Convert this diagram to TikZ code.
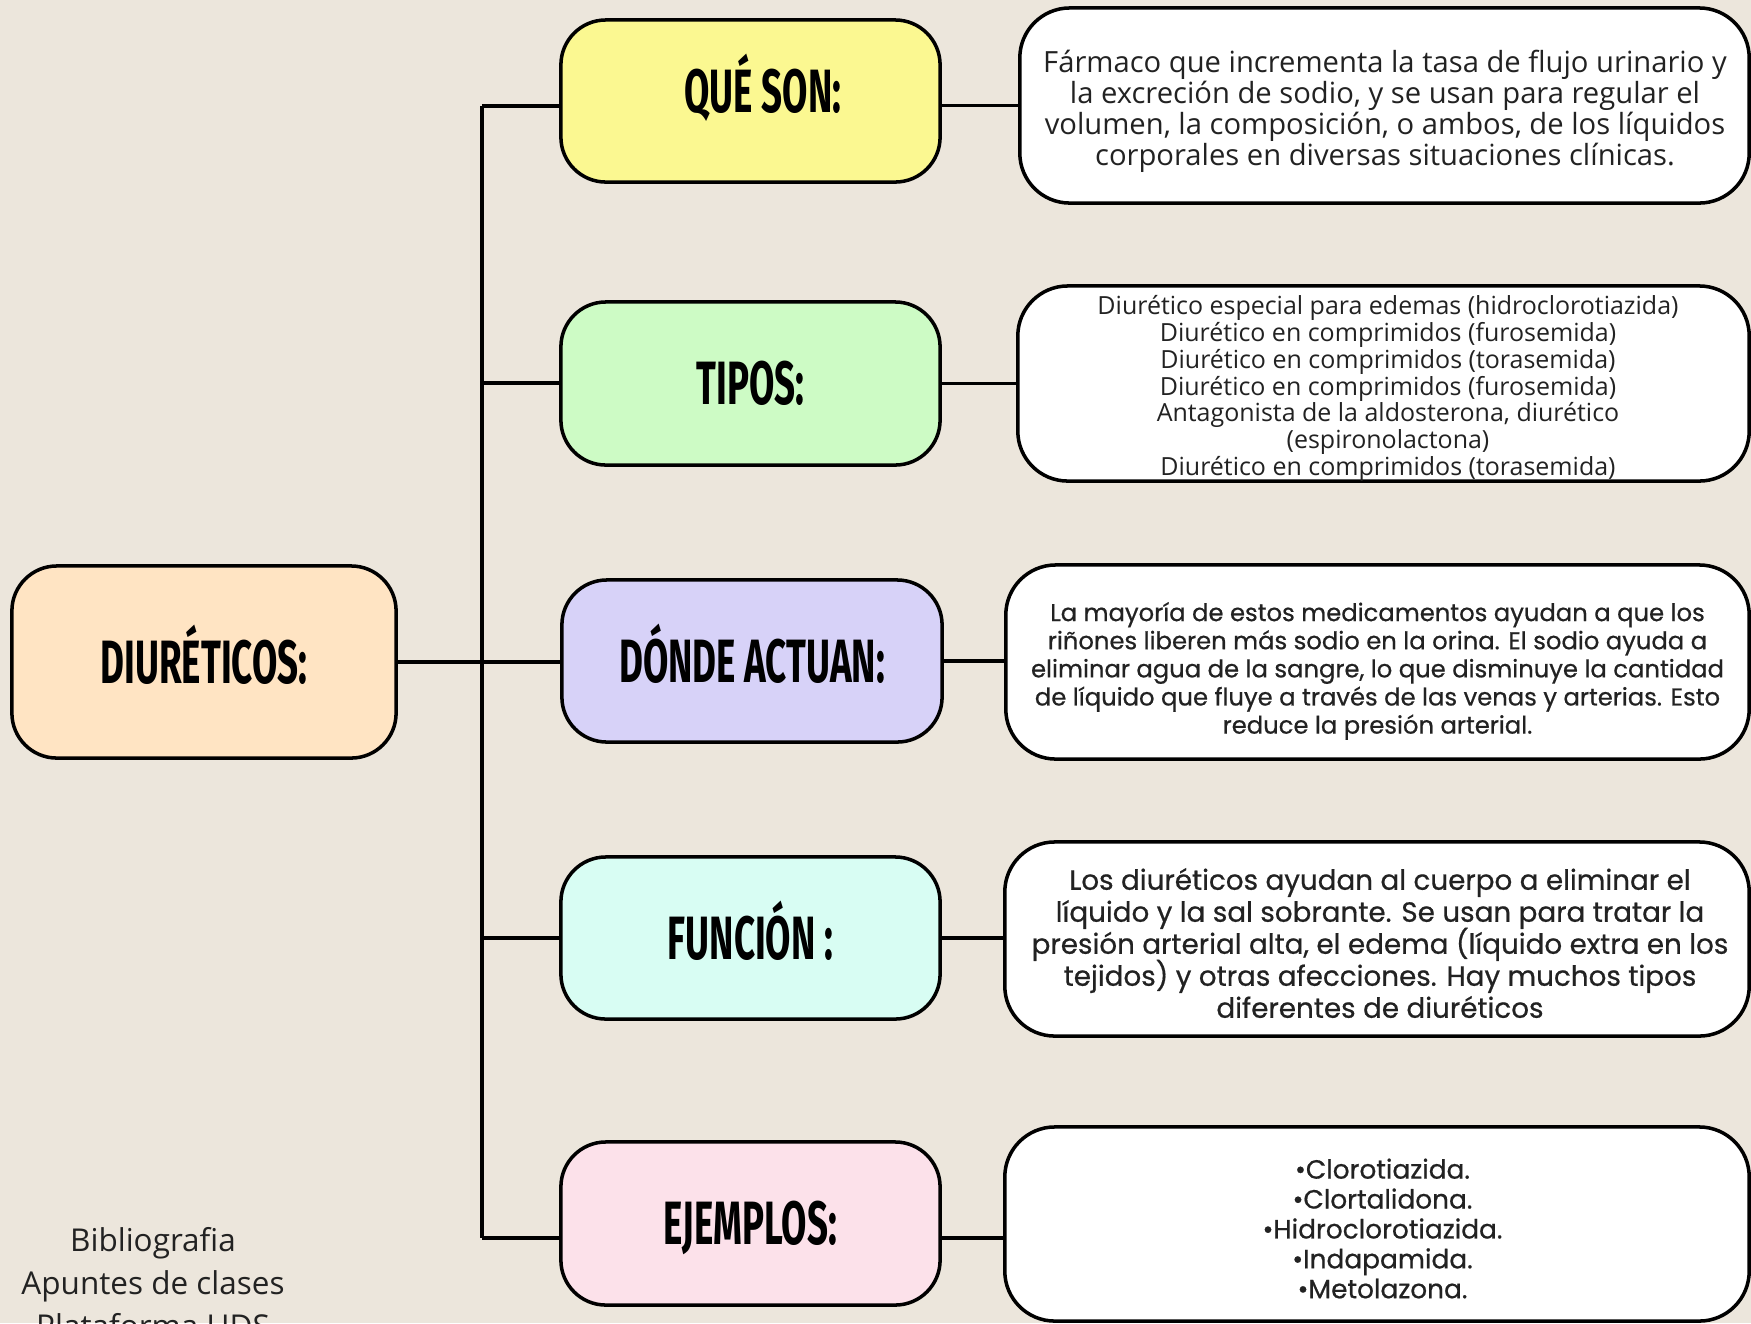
\documentclass[tikz,border=0pt]{standalone}
\usepackage{fontspec}
\setmainfont{Open Sans}
\newfontfamily\headfont{Fira Sans}[FakeStretch=0.6]
\newfontfamily\polyfont{Poppins}[FakeBold=0.6]
\newcommand\tightlines{\lineskiplimit=-20pt\relax\lineskip=0pt\relax}
\definecolor{bg}{HTML}{ECE6DC}
\definecolor{cpeach}{HTML}{FFE4C3}
\definecolor{cyellow}{HTML}{FBF891}
\definecolor{cgreen}{HTML}{CDFBC5}
\definecolor{clav}{HTML}{D7D2F8}
\definecolor{ccyan}{HTML}{D8FDF3}
\definecolor{cpink}{HTML}{FCE1EA}
\definecolor{txt}{HTML}{222222}
\tikzset{
  cat/.style={draw=black, line width=1pt, rounded corners=0.45cm, inner sep=0pt,
    minimum width=3.79cm, minimum height=1.62cm, text height=12pt, text depth=0pt,
    font=\headfont\bfseries\fontsize{17.4}{20}\selectfont},
  det/.style={draw=black, line width=1pt, fill=white, rounded corners=0.5cm, inner sep=0pt},
  dtext/.style={align=center, text=txt, inner sep=0pt},
  link/.style={draw=black, line width=0.9pt},
}
\begin{document}
\begin{tikzpicture}[x=0.01cm,y=-0.01cm]
\fill[bg] (0,0) rectangle (1751,1323);
\useasboundingbox (0,0) rectangle (1751,1323);

\coordinate (t1) at (482,106);
\coordinate (t2) at (482,383);
\coordinate (t3) at (482,662);
\coordinate (t4) at (482,938);
\coordinate (t5) at (482,1238);

% category boxes
\node[cat, fill=cpeach, minimum width=3.84cm, minimum height=1.92cm] (diur) at (204,662) {DIURÉTICOS:};
\node[cat, fill=cyellow] (qs) at (750.5,101) {};
\node[cat, draw=none, fill=none, minimum width=0pt, minimum height=0pt] (qst) at (763,91) {QUÉ SON:};
\node[cat, fill=cgreen, minimum height=1.63cm] (tipos) at (750.5,383.5) {TIPOS:};
\node[cat, fill=clav, minimum width=3.80cm] (donde) at (752,661) {DÓNDE ACTUAN:};
\node[cat, fill=ccyan] (func) at (750.5,938) {FUNCIÓN :};
\node[cat, fill=cpink, minimum height=1.63cm] (ejem) at (750.5,1223.5) {EJEMPLOS:};

% detail boxes
\node[det, minimum width=7.29cm, minimum height=1.95cm] (d1) at (1384.5,105.5) {};
\node[det, minimum width=7.31cm, minimum height=1.95cm] (d2) at (1383.5,383.5) {};
\node[det, minimum width=7.43cm, minimum height=1.94cm] (d3) at (1377.5,662) {};
\node[det, minimum width=7.44cm, minimum height=1.94cm] (d4) at (1377,939) {};
\node[det, minimum width=7.44cm, minimum height=1.94cm] (d5) at (1377,1224) {};

\node[dtext, font=\fontsize{8.3}{8.8}\selectfont] (d1t) at (1385,111)
  {Fármaco que incrementa la tasa de flujo urinario y\\
   la excreción de sodio, y se usan para regular el\\
   volumen, la composición, o ambos, de los líquidos\\
   corporales en diversas situaciones clínicas.};
\node[dtext, font=\fontsize{7.1}{7.6}\selectfont] (d2t) at (1388,388.5)
  {Diurético especial para edemas (hidroclorotiazida)\\
   Diurético en comprimidos (furosemida)\\
   Diurético en comprimidos (torasemida)\\
   Diurético en comprimidos (furosemida)\\
   Antagonista de la aldosterona, diurético\\
   (espironolactona)\\
   Diurético en comprimidos (torasemida)};
\node[dtext, font=\polyfont\fontsize{6.9}{8}\selectfont\tightlines] (d3t) at (1377.5,671)
  {La mayoría de estos medicamentos ayudan a que los\\
   riñones liberen más sodio en la orina. El sodio ayuda a\\
   eliminar agua de la sangre, lo que disminuye la cantidad\\
   de líquido que fluye a través de las venas y arterias. Esto\\
   reduce la presión arterial.};
\node[dtext, font=\polyfont\fontsize{7.9}{9.1}\selectfont\tightlines] (d4t) at (1380,943)
  {Los diuréticos ayudan al cuerpo a eliminar el\\
   líquido y la sal sobrante. Se usan para tratar la\\
   presión arterial alta, el edema (líquido extra en los\\
   tejidos) y otras afecciones. Hay muchos tipos\\
   diferentes de diuréticos};
\node[dtext, font=\polyfont\fontsize{7.5}{8.5}\selectfont\tightlines] (d5t) at (1382.5,1228.5)
  {•Clorotiazida.\\
   •Clortalidona.\\
   •Hidroclorotiazida.\\
   •Indapamida.\\
   •Metolazona.};

% trunk and branches
\draw[link] (t1) -- (t5);
\draw[link] (t1) -- (t1 -| qs.west);
\draw[link] (t2) -- (t2 -| tipos.west);
\draw[link] (diur.east |- t3) -- (t3 -| donde.west);
\draw[link] (t4) -- (t4 -| func.west);
\draw[link] (t5) -- (t5 -| ejem.west);

% right connectors
\draw[link] (qs.east |- d1.center) -- (d1.west);
\draw[link] (tipos.east) -- (d2.west |- tipos.east);
\draw[link] (donde.east) -- (d3.west |- donde.east);
\draw[link] (func.east) -- (d4.west |- func.east);
\draw[link] (ejem.east |- t5) -- (d5.west |- t5);

% bibliography
\node[align=center, text=txt, font=\fontsize{8.95}{12.2}\selectfont, anchor=north] (bib) at (153,1215)
  {Bibliografia\\ Apuntes de clases\\ Plataforma UDS};
\end{tikzpicture}
\end{document}
